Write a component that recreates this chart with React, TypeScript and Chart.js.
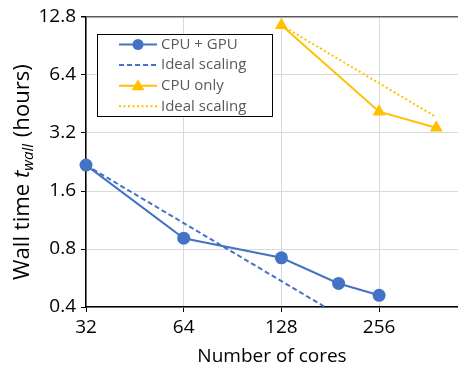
import React, { useEffect, useRef } from "react";
import { Chart, registerables } from "chart.js";

Chart.register(...registerables);

const coresGpu = [32, 64, 128, 192, 256];
const wallGpu = [2.18, 0.91, 0.72, 0.53, 0.46];
const coresIdealGpu = [32, 64, 128, 256];
const wallIdealGpu = [2.18, 1.09, 0.545, 0.2725];
const coresCpu = [128, 256, 384];
const wallCpu = [11.6, 4.13, 3.41];
const coresIdealCpu = [128, 256, 384];
const wallIdealCpu = [11.6, 5.8, 3.87];
const xTicks = [32, 64, 128, 256];
const yTicks = [0.4, 0.8, 1.6, 3.2, 6.4, 12.8];
const seriesLabels = ["CPU + GPU", "Ideal scaling", "CPU only", "Ideal scaling"];

const BLUE = "#4472C4";
const GOLD = "#FFC000";
const FONT = "'Open Sans', 'DejaVu Sans', sans-serif";

const pts = (xs: number[], ys: number[]) => xs.map((x, i) => ({ x, y: ys[i] }));

const overlayPlugin = {
  id: "overlay",
  afterDraw(chart: any) {
    const ctx = chart.ctx as CanvasRenderingContext2D;
    ctx.save();
    // legend
    const bx = 97.5, by = 34.5, bw = 175, bh = 82;
    ctx.fillStyle = "#ffffff";
    ctx.fillRect(bx, by, bw, bh);
    ctx.strokeStyle = "#000000";
    ctx.lineWidth = 1;
    ctx.setLineDash([]);
    ctx.strokeRect(bx, by, bw, bh);
    chart.data.datasets.forEach((ds: any, i: number) => {
      const y = 44.5 + i * 20.6;
      ctx.strokeStyle = ds.borderColor;
      ctx.lineWidth = 2;
      ctx.setLineDash(ds.borderDash || []);
      ctx.beginPath();
      ctx.moveTo(119, y);
      ctx.lineTo(157, y);
      ctx.stroke();
      ctx.setLineDash([]);
      ctx.fillStyle = ds.borderColor;
      if (ds.pointRadius > 0) {
        if (ds.pointStyle === "circle") {
          ctx.beginPath();
          ctx.arc(138, y, 5.5, 0, Math.PI * 2);
          ctx.fill();
        } else if (ds.pointStyle === "triangle") {
          ctx.beginPath();
          ctx.moveTo(138, y - 6.5);
          ctx.lineTo(144.5, y + 4.5);
          ctx.lineTo(131.5, y + 4.5);
          ctx.closePath();
          ctx.fill();
        }
      }
      ctx.fillStyle = "#595959";
      ctx.font = `15px ${FONT}`;
      ctx.textBaseline = "middle";
      ctx.textAlign = "left";
      ctx.fillText(seriesLabels[i], 161, y);
    });

    // x axis title
    ctx.fillStyle = "#000000";
    ctx.font = `19px ${FONT}`;
    ctx.textAlign = "center";
    ctx.textBaseline = "alphabetic";
    ctx.fillText("Number of cores", 272, 362);

    // y axis title with subscript
    const p1 = "Wall time ";
    const p2 = "t";
    const p3 = "wall";
    const p4 = " (hours)";
    const measure = (fs: number) => {
      ctx.font = `${fs}px ${FONT}`;
      const w1 = ctx.measureText(p1).width;
      ctx.font = `italic ${fs}px ${FONT}`;
      const w2 = ctx.measureText(p2).width;
      ctx.font = `italic ${fs * 0.68}px ${FONT}`;
      const w3 = ctx.measureText(p3).width + 1;
      ctx.font = `${fs}px ${FONT}`;
      const w4 = ctx.measureText(p4).width;
      return [w1, w2, w3, w4];
    };
    const base = measure(20);
    const total0 = base.reduce((a, b) => a + b, 0);
    const fs = (20 * 216) / total0;
    const [w1, w2, w3, w4] = measure(fs);
    ctx.translate(29, 172);
    ctx.rotate(-Math.PI / 2);
    ctx.textAlign = "left";
    ctx.textBaseline = "alphabetic";
    let x = -(w1 + w2 + w3 + w4) / 2;
    ctx.font = `${fs}px ${FONT}`;
    ctx.fillText(p1, x, 0);
    x += w1;
    ctx.font = `italic ${fs}px ${FONT}`;
    ctx.fillText(p2, x, 0);
    x += w2;
    ctx.font = `italic ${fs * 0.68}px ${FONT}`;
    ctx.fillText(p3, x, 4);
    x += w3;
    ctx.font = `${fs}px ${FONT}`;
    ctx.fillText(p4, x, 0);
    ctx.restore();
  },
};

export default function App() {
  const ref = useRef<HTMLCanvasElement | null>(null);
  useEffect(() => {
    if (!ref.current) return;
    const chart = new Chart(ref.current, {
      type: "line",
      data: {
        datasets: [
          {
            label: seriesLabels[0],
            data: pts(coresGpu, wallGpu),
            borderColor: BLUE,
            backgroundColor: BLUE,
            borderWidth: 2,
            pointStyle: "circle",
            pointRadius: 6.5,
            pointBorderWidth: 0,
            clip: false,
          } as any,
          {
            label: seriesLabels[1],
            data: pts(coresIdealGpu, wallIdealGpu),
            borderColor: BLUE,
            backgroundColor: BLUE,
            borderWidth: 2,
            borderDash: [5, 3],
            pointRadius: 0,
            clip: { left: 10, top: 10, right: 10, bottom: 0 },
          } as any,
          {
            label: seriesLabels[2],
            data: pts(coresCpu, wallCpu),
            borderColor: GOLD,
            backgroundColor: GOLD,
            borderWidth: 2,
            pointStyle: "triangle",
            pointRadius: 7.5,
            pointBorderWidth: 0,
            clip: false,
          } as any,
          {
            label: seriesLabels[3],
            data: pts(coresIdealCpu, wallIdealCpu),
            borderColor: GOLD,
            backgroundColor: GOLD,
            borderWidth: 2,
            borderDash: [2, 2.5],
            pointRadius: 0,
            clip: false,
          } as any,
        ],
      },
      options: {
        animation: false,
        responsive: false,
        devicePixelRatio: 1,
        layout: { autoPadding: false, padding: { left: 0, right: 0, top: 17, bottom: 0 } },
        plugins: { legend: { display: false }, tooltip: { enabled: false } },
        scales: {
          x: {
            type: "logarithmic",
            min: 32,
            max: 448,
            afterBuildTicks: (s: any) => {
              s.ticks = xTicks.map((v) => ({ value: v }));
            },
            afterFit: (s: any) => {
              s.height = 60;
              s.paddingLeft = 0;
              s.paddingRight = 0;
            },
            ticks: {
              callback: (v: any) => String(v),
              color: "#000000",
              font: { family: FONT, size: 19 },
              padding: 4,
              maxRotation: 0,
              autoSkip: false,
            },
            grid: { color: "#d9d9d9", lineWidth: 1, tickColor: "#000000", tickLength: 5 },
            border: { color: "#000000", width: 1.5 },
          },
          y: {
            type: "logarithmic",
            min: 0.4,
            max: 12.8,
            afterBuildTicks: (s: any) => {
              s.ticks = yTicks.map((v) => ({ value: v }));
            },
            afterFit: (s: any) => {
              s.width = 86;
              s.paddingTop = 0;
              s.paddingBottom = 0;
            },
            ticks: {
              callback: (v: any) => String(v),
              color: "#000000",
              font: { family: FONT, size: 19 },
              padding: 5,
              autoSkip: false,
            },
            grid: {
              color: (c: any) => (c.tick && c.tick.value === 12.8 ? "#595959" : "#d9d9d9"),
              lineWidth: (c: any) => (c.tick && c.tick.value === 12.8 ? 1.5 : 1),
              tickColor: "#000000",
              tickLength: 5,
            },
            border: { color: "#000000", width: 1.5 },
          },
        },
      } as any,
      plugins: [overlayPlugin],
    });
    return () => chart.destroy();
  }, []);
  return (
    <div style={{ position: "absolute", left: 0, top: 0, width: 458, height: 367 }}>
      <canvas ref={ref} width={458} height={367} style={{ width: 458, height: 367, display: "block" }} />
    </div>
  );
}
